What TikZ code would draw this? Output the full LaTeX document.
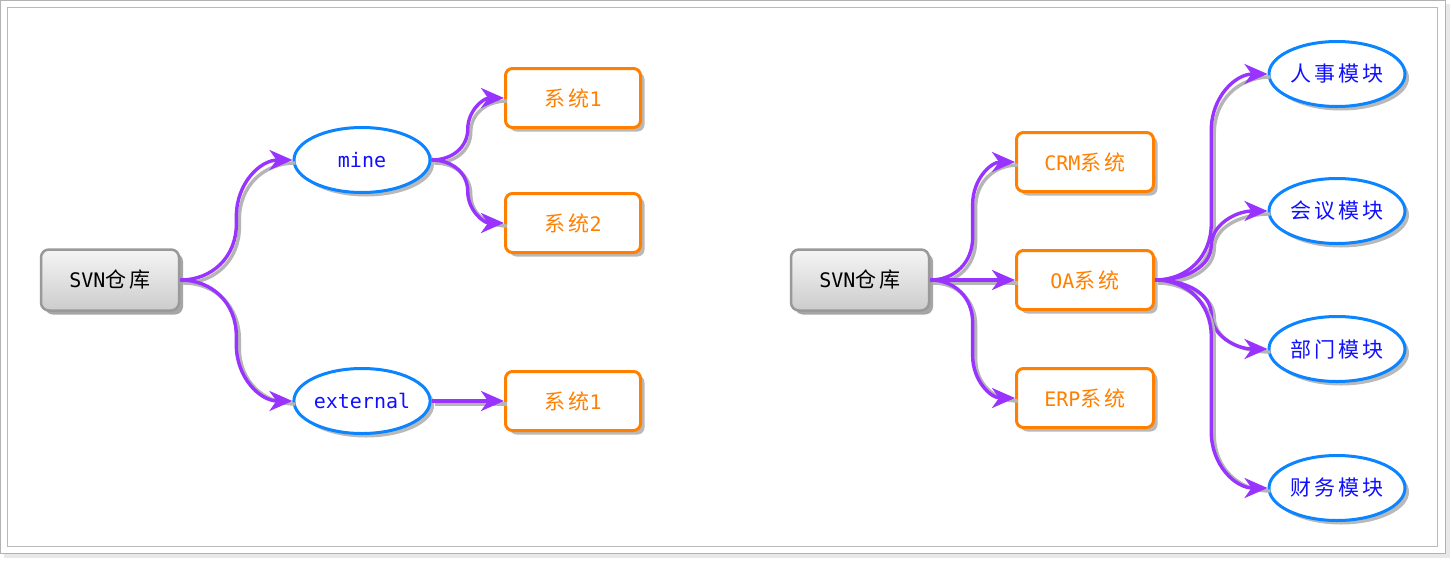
\documentclass[tikz,border=0pt]{standalone}
\usepackage{fontspec}
\setmainfont{DejaVu Sans Mono}
\newfontfamily\cjkf[LetterSpace=15]{Noto Sans CJK SC}
\usetikzlibrary{arrows.meta,shadows,calc,shapes.geometric}
\definecolor{conn}{HTML}{9933FF}
\definecolor{eblue}{HTML}{0A84FF}
\definecolor{tblue}{HTML}{1010FF}
\definecolor{orng}{HTML}{FF8000}
\newcommand\zh[1]{{\fontsize{21pt}{24pt}\cjkf #1}}
\tikzset{
  base/.style={inner sep=0pt, font=\fontsize{20pt}{24pt}\selectfont},
  svnbox/.style={base, rectangle, rounded corners=8pt, minimum width=138pt, minimum height=61pt,
    top color=gray!8, bottom color=gray!40, draw=black!40, line width=2.5pt, text=black,
    drop shadow={shadow xshift=4pt, shadow yshift=-4pt, fill=gray!70, opacity=1}},
  sysbox/.style={base, rectangle, rounded corners=7pt, minimum width=135pt, minimum height=59pt,
    fill=white, draw=orng, line width=3pt, text=orng,
    drop shadow={shadow xshift=4pt, shadow yshift=-4pt, fill=gray!55, opacity=1}},
  modell/.style={base, ellipse, minimum width=136pt, minimum height=65pt,
    fill=white, draw=eblue, line width=3pt, text=tblue,
    drop shadow={shadow xshift=4pt, shadow yshift=-4pt, fill=gray!55, opacity=1}},
  curv/.style={to path={let \p1=(\tikztostart), \p2=(\tikztotarget),
     \n1={min(abs(\y2-\y1)/2,(\x2-\x1)/2)}, \n2={0.5*(\x1+\x2)},
     \p4=($(\n2,\y1)!\n1!(\n2,\y2)$), \p5=($(\n2,\y2)!\n1!(\n2,\y1)$),
     \p6=($(\p1)!0.58!(\n2,\y1)$), \p7=($(\p4)!0.58!(\n2,\y1)$),
     \p8=($(\p5)!0.58!(\n2,\y2)$), \p9=($(\p2)!0.58!(\n2,\y2)$) in
     .. controls (\p6) and (\p7) .. (\p4) -- (\p5) .. controls (\p8) and (\p9) .. (\p2) \tikztonodes}},
  cn/.style={draw=conn, line width=3.4pt, -{Stealth[length=23pt,width=20pt,inset=7pt]},
    preaction={draw=gray!58, line width=3.4pt, -, transform canvas={xshift=3pt,yshift=-3pt}}},
}
\begin{document}
\begin{tikzpicture}[x=1pt,y=-1pt]
\useasboundingbox (0,0) rectangle (1451,560);
% frame
\fill[gray!18] (4,4) rectangle (1450,558);
\draw[gray!60, fill=white, line width=1pt] (0.5,0.5) rectangle (1445,553.5);
\draw[gray!55, line width=1.3pt] (7.5,7.5) rectangle (1437.5,546.5);
% left tree
\node[svnbox] (svnL) at (110,280) {SVN\zh{仓库}};
\node[modell] (mine) at (362,160) {mine};
\node[modell] (ext) at (362,401) {external};
\node[sysbox] (s1) at (573,98) {\zh{系统}1};
\node[sysbox] (s2) at (573,223) {\zh{系统}2};
\node[sysbox] (s3) at (573,401) {\zh{系统}1};
% right tree
\node[svnbox] (svnR) at (860,280) {SVN\zh{仓库}};
\node[sysbox, minimum width=137pt] (crm) at (1085,162) {CRM\zh{系统}};
\node[sysbox, minimum width=137pt] (oa) at (1085,280) {OA\zh{系统}};
\node[sysbox, minimum width=137pt] (erp) at (1085,398) {ERP\zh{系统}};
\node[modell] (rs) at (1337,74) {\zh{人事模块}};
\node[modell] (hy) at (1337,211) {\zh{会议模块}};
\node[modell] (bm) at (1337,349) {\zh{部门模块}};
\node[modell] (cw) at (1337,488) {\zh{财务模块}};
% connectors
\draw[cn] (svnL.east) to[curv] (mine.west);
\draw[cn] (svnL.east) to[curv] (ext.west);
\draw[cn] (mine.east) to[curv] (s1.west);
\draw[cn] (mine.east) to[curv] (s2.west);
\draw[cn] (ext.east) -- (s3.west);
\draw[cn] (svnR.east) to[curv] (crm.west);
\draw[cn] (svnR.east) -- (oa.west);
\draw[cn] (svnR.east) to[curv] (erp.west);
\draw[cn] (oa.east) to[curv] (rs.west);
\draw[cn] (oa.east) to[curv] (hy.west);
\draw[cn] (oa.east) to[curv] (bm.west);
\draw[cn] (oa.east) to[curv] (cw.west);
\end{tikzpicture}
\end{document}
